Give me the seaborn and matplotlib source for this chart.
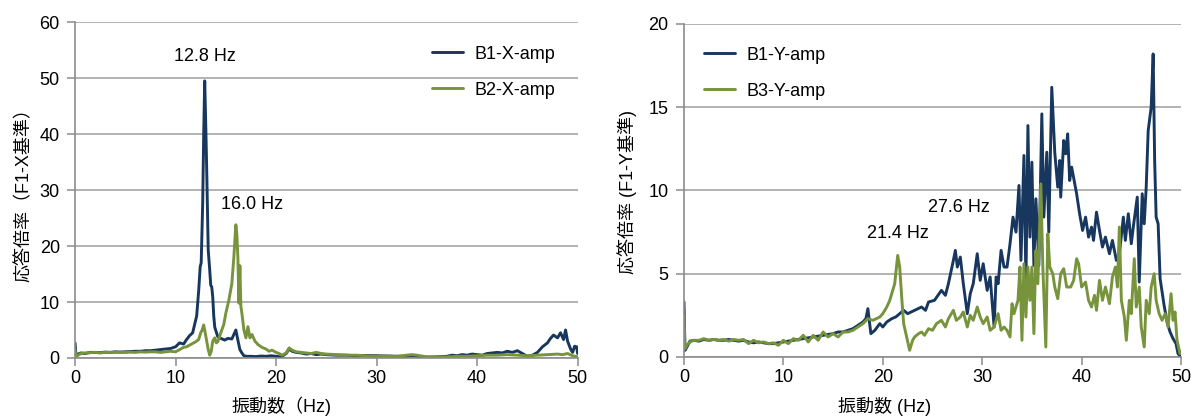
import matplotlib
matplotlib.use('Agg')
import matplotlib.pyplot as plt
import seaborn as sns
import pandas as pd

# 左: X方向 応答倍率
b1x_hz = [0, 0.1, 0.3, 0.6, 1, 1.5, 2, 2.5, 3, 3.5,
          4, 4.5, 5, 5.5, 6, 6.5, 7, 7.5, 8, 8.5,
          9, 9.5, 10, 10.4, 10.8, 11.1, 11.4, 11.7, 11.9, 12.1,
          12.3, 12.45, 12.55, 12.7, 12.8, 12.9, 13.0, 13.1, 13.25, 13.4,
          13.5, 13.6, 13.7, 13.8, 13.9, 14.2, 14.5, 14.9, 15.2, 15.6,
          15.8, 16.0, 16.2, 16.4, 16.6, 16.8, 17.1, 17.5, 18.0, 18.5,
          19, 19.5, 20, 20.5, 21, 21.3, 21.6, 22, 22.5, 23,
          23.5, 24, 24.5, 25, 26, 27, 28, 29, 30, 31,
          32, 33, 33.5, 34, 35, 36, 37, 37.5, 38, 38.5,
          39, 39.5, 40, 40.5, 41, 41.5, 42, 42.5, 43, 43.5,
          44, 44.5, 45, 45.5, 46, 46.5, 47, 47.3, 47.6, 48.0,
          48.3, 48.6, 48.8, 49.0, 49.3, 49.5, 49.7, 49.9, 50]
b1x_amp = [2.7, 0.3, 0.7, 0.9, 0.8, 1.0, 1.0, 0.95, 1.05, 1.0,
           1.1, 1.05, 1.1, 1.15, 1.2, 1.2, 1.3, 1.3, 1.4, 1.5,
           1.6, 1.7, 2.0, 2.7, 2.5, 3.3, 4.0, 4.5, 6.0, 7.5,
           12.0, 16.3, 17.0, 27.6, 40.0, 49.5, 42.0, 33.6, 19.3, 15.7,
           13.0, 12.7, 10.9, 7.5, 5.5, 3.8, 3.5, 3.2, 3.5, 3.4,
           4.2, 5.0, 3.2, 1.5, 0.9, 0.4, 0.3, 0.3, 0.25, 0.35,
           0.3, 0.4, 0.3, 0.2, 0.8, 1.6, 1.2, 1.0, 0.9, 0.7,
           0.8, 0.6, 0.7, 0.6, 0.5, 0.5, 0.4, 0.45, 0.4, 0.35,
           0.3, 0.3, 0.4, 0.3, 0.15, 0.2, 0.3, 0.5, 0.4, 0.6,
           0.5, 0.7, 0.6, 0.5, 0.8, 0.9, 1.0, 0.9, 1.2, 1.0,
           1.3, 0.8, 0.3, 0.5, 1.0, 2.0, 2.7, 3.5, 4.1, 3.6,
           4.5, 3.3, 5.0, 3.0, 1.6, 1.0, 2.1, 2.0, 0.8]

b2x_hz = [0, 0.1, 0.3, 0.6, 1, 1.5, 2, 2.5, 3, 3.5,
          4, 4.5, 5, 5.5, 6, 6.5, 7, 7.5, 8, 8.5,
          9, 9.5, 10, 10.4, 10.8, 11.1, 11.4, 11.7, 12.0, 12.3,
          12.5, 12.65, 12.8, 12.95, 13.1, 13.25, 13.4, 13.55, 13.7, 13.9,
          14.05, 14.2, 14.5, 14.8, 15.0, 15.3, 15.6, 15.8, 15.9, 16.0,
          16.1, 16.2, 16.3, 16.4, 16.5, 16.6, 16.8, 17.0, 17.2, 17.4,
          17.6, 17.9, 18.2, 18.6, 19.0, 19.3, 19.6, 20.0, 20.3, 20.6,
          21.0, 21.3, 21.6, 22.0, 22.5, 23.0, 23.5, 24.0, 24.5, 25.0,
          26, 27, 28, 29, 30, 31, 32, 33, 33.5, 34,
          35, 36, 37, 38, 39, 40, 41, 42, 43, 44,
          45, 46, 47, 48, 48.5, 49, 49.5, 50]
b2x_amp = [1.5, 0.2, 0.5, 0.8, 0.9, 0.95, 1.0, 0.9, 1.0, 1.0,
           1.0, 1.05, 1.0, 1.05, 1.0, 1.1, 1.05, 1.1, 1.1, 1.0,
           1.1, 1.2, 1.1, 1.5, 1.9, 2.0, 2.3, 2.6, 2.9, 3.3,
           4.5, 5.0, 5.9, 4.5, 3.0, 1.5, 0.5, 1.2, 3.0, 3.6,
           2.7, 2.9, 4.5, 6.0, 8.0, 10.3, 13.3, 18.0, 21.0, 23.8,
           22.0, 18.0, 9.8, 16.5, 9.2, 8.0, 5.0, 3.6, 5.6, 3.6,
           4.2, 3.0, 2.4, 1.9, 1.6, 1.2, 1.4, 1.0, 0.8, 0.5,
           0.9, 1.8, 1.4, 1.1, 1.0, 0.9, 0.8, 1.0, 0.8, 0.7,
           0.6, 0.5, 0.5, 0.4, 0.3, 0.35, 0.3, 0.5, 0.6, 0.5,
           0.2, 0.15, 0.2, 0.3, 0.3, 0.4, 0.5, 0.5, 0.6, 0.5,
           0.4, 0.5, 0.6, 0.7, 0.6, 0.8, 0.4, 0.2]

# 右: Y方向 応答倍率
b1y_hz = [0, 0.1, 0.3, 0.6, 1.0, 1.5, 2.0, 2.5, 3.0, 3.5,
          4, 4.5, 5, 5.5, 6, 6.5, 7, 7.5, 8, 8.5,
          9, 9.5, 10, 10.5, 11, 11.5, 12, 12.5, 13, 13.5,
          14, 14.5, 15, 15.5, 16, 16.5, 17, 17.5, 18, 18.3,
          18.5, 18.8, 19.2, 19.7, 20.0, 20.4, 20.9, 21.3, 21.7, 22.1,
          22.5, 23.2, 23.9, 24.3, 24.6, 25.2, 25.9, 26.3, 26.6, 27.1,
          27.3, 27.5, 27.8, 28.1, 28.5, 28.8, 29.1, 29.5, 29.8, 30.1,
          30.5, 30.8, 31.2, 31.4, 31.6, 31.9, 32.2, 32.5, 32.8, 33.1,
          33.4, 33.7, 33.9, 34.2, 34.4, 34.6, 34.8, 35.0, 35.2, 35.4,
          35.7, 36.0, 36.2, 36.5, 36.7, 37.0, 37.3, 37.6, 37.8, 37.9,
          38.2, 38.4, 38.6, 38.8, 39.0, 39.5, 39.8, 40.1, 40.4, 40.7,
          41.0, 41.2, 41.5, 41.8, 42.1, 42.4, 42.8, 43.1, 43.5, 43.8,
          44.2, 44.4, 44.7, 45.0, 45.2, 45.6, 45.8, 46.1, 46.3, 46.5,
          46.7, 47.0, 47.2, 47.35, 47.5, 47.7, 47.9, 48.3, 48.6, 48.9,
          49.2, 49.5, 49.7, 50]
b1y_amp = [3.3, 0.4, 0.6, 0.95, 1.0, 0.95, 1.05, 1.0, 1.05, 1.0,
           1.0, 1.05, 1.0, 0.95, 1.0, 0.9, 0.85, 0.9, 0.85, 0.8,
           0.8, 0.85, 0.9, 0.95, 1.0, 1.05, 1.1, 1.15, 1.2, 1.25,
           1.3, 1.35, 1.4, 1.5, 1.5, 1.6, 1.7, 1.9, 2.1, 2.3,
           2.9, 1.4, 1.6, 2.0, 1.8, 2.1, 2.3, 2.4, 2.6, 2.8,
           2.6, 2.8, 3.0, 2.8, 3.3, 3.4, 4.0, 3.7, 4.4, 5.8,
           6.4, 5.4, 6.0, 4.4, 2.6, 3.8, 4.4, 6.2, 4.6, 5.6,
           4.0, 4.8, 1.8, 4.8, 4.4, 6.4, 5.4, 5.4, 6.8, 8.4,
           7.5, 10.3, 5.8, 12.1, 4.5, 13.9, 7.2, 11.7, 5.5, 9.5,
           5.5, 14.6, 8.4, 12.3, 7.5, 16.2, 12.3, 10.2, 11.8, 9.6,
           13.0, 12.2, 13.4, 10.6, 11.4, 9.8, 8.6, 7.6, 8.4, 7.2,
           7.8, 7.0, 8.7, 7.6, 6.6, 7.2, 6.2, 7.0, 5.8, 6.2,
           8.4, 7.0, 8.6, 6.8, 7.8, 9.6, 4.5, 9.8, 8.0, 10.2,
           13.6, 15.0, 18.2, 11.8, 8.4, 8.0, 4.7, 3.1, 2.1, 1.5,
           1.1, 0.8, 0.2, 0.0]

b3y_hz = [0, 0.1, 0.3, 0.6, 1.0, 1.5, 2.0, 2.5, 3.0, 3.5,
          4, 4.5, 5, 5.5, 6, 6.5, 7, 7.5, 8, 8.5,
          9, 9.5, 10, 10.5, 11, 11.5, 12, 12.5, 13, 13.5,
          14, 14.5, 15, 15.5, 16, 16.5, 17, 17.5, 18, 18.5,
          19.0, 19.7, 20.0, 20.4, 20.7, 20.9, 21.2, 21.5, 21.7, 21.9,
          22.1, 22.4, 22.7, 23.0, 23.2, 23.6, 23.9, 24.2, 24.6, 25.0,
          25.4, 25.9, 26.3, 26.6, 27.1, 27.4, 27.8, 28.1, 28.5, 28.8,
          29.1, 29.5, 29.8, 30.1, 30.5, 30.8, 31.2, 31.6, 31.9, 32.2,
          32.5, 32.8, 33.0, 33.2, 33.4, 33.6, 33.8, 34.0, 34.2, 34.4,
          34.6, 34.8, 35.0, 35.2, 35.4, 35.6, 35.9, 36.1, 36.4, 36.6,
          36.8, 37.1, 37.3, 37.6, 37.9, 38.2, 38.5, 38.9, 39.2, 39.5,
          39.7, 40.0, 40.4, 40.7, 41.0, 41.3, 41.5, 41.8, 42.1, 42.4,
          42.8, 43.1, 43.4, 43.6, 43.8, 44.0, 44.3, 44.5, 44.8, 45.0,
          45.3, 45.5, 45.8, 46.0, 46.3, 46.5, 46.8, 47.0, 47.3, 47.5,
          47.8, 48.1, 48.4, 48.7, 49.0, 49.2, 49.4, 49.6, 49.9, 50.0]
b3y_amp = [2.5, 0.5, 0.7, 0.9, 1.0, 1.0, 1.1, 1.0, 1.05, 1.0,
           1.05, 0.95, 1.05, 1.0, 1.05, 0.8, 1.0, 0.85, 0.9, 0.8,
           0.85, 0.7, 1.0, 0.8, 1.1, 1.0, 1.3, 0.9, 1.3, 1.0,
           1.5, 1.2, 1.4, 1.2, 1.5, 1.5, 1.6, 1.8, 2.0, 2.3,
           2.2, 2.4, 2.6, 3.0, 3.4, 3.8, 4.4, 6.1, 5.4, 3.6,
           2.0, 1.2, 0.4, 1.0, 1.2, 1.4, 1.5, 1.3, 1.7, 1.6,
           2.0, 2.2, 1.8, 2.3, 2.8, 2.2, 2.4, 2.7, 1.8, 2.5,
           2.2, 3.0, 2.4, 2.0, 2.4, 1.6, 1.8, 2.6, 1.6, 1.8,
           1.6, 1.2, 3.2, 2.6, 3.0, 3.4, 5.4, 1.0, 5.6, 2.4,
           5.4, 3.4, 5.4, 1.4, 6.4, 4.4, 10.4, 5.4, 0.6, 7.4,
           5.4, 5.0, 4.2, 3.5, 5.0, 5.3, 4.2, 4.2, 4.6, 5.9,
           5.6, 4.2, 4.5, 3.4, 3.0, 3.7, 2.8, 4.6, 3.4, 4.2,
           3.2, 4.8, 5.4, 4.2, 7.8, 3.4, 2.4, 1.0, 3.4, 2.6,
           5.9, 3.0, 4.2, 1.8, 0.6, 3.4, 2.6, 4.2, 5.0, 3.4,
           2.6, 2.2, 2.6, 1.8, 3.8, 2.2, 2.7, 1.0, 0.2, 0.3]

NAVY = '#17375E'
OLIVE = '#77933C'
GRID = '#A6A6A6'
AXIS = '#8C8C8C'

sns.set_style('white')
plt.rcParams['font.family'] = ['Liberation Sans', 'Noto Sans CJK JP']
plt.rcParams['font.size'] = 13
plt.rcParams['text.color'] = 'black'
plt.rcParams['axes.labelcolor'] = 'black'


def style_axes(ax, ymax, ystep):
    ax.set_xlim(0, 50)
    ax.set_ylim(0, ymax)
    ax.set_xticks(range(0, 51, 10))
    ax.set_yticks(range(0, ymax + 1, ystep))
    ax.yaxis.grid(True, color=GRID, lw=1.2)
    ax.xaxis.grid(False)
    ax.set_axisbelow(True)
    for side in ['top', 'right']:
        ax.spines[side].set_visible(False)
    for side in ['left', 'bottom']:
        ax.spines[side].set_color(AXIS)
        ax.spines[side].set_linewidth(1.2)
    ax.tick_params(axis='both', direction='out', length=6, width=1.1,
                   color=AXIS, labelcolor='black', labelsize=13,
                   bottom=True, left=True)
    ax.tick_params(axis='y', pad=5)
    ax.tick_params(axis='x', pad=3)


def add_legend(ax, anchor):
    ax.legend(loc='upper left', bbox_to_anchor=anchor, frameon=False,
              borderpad=0, borderaxespad=0, handlelength=1.75,
              handletextpad=0.6, labelspacing=1.05, fontsize=13)


fig = plt.figure(figsize=(11.91, 4.17), dpi=100)
ax1 = fig.add_axes([0.063, 0.1415, 0.422, 0.8055])
ax2 = fig.add_axes([0.5743, 0.144, 0.4173, 0.7985])

left = pd.DataFrame({'hz': b1x_hz, 'amp': b1x_amp})
left2 = pd.DataFrame({'hz': b2x_hz, 'amp': b2x_amp})
sns.lineplot(data=left, x='hz', y='amp', color=NAVY, lw=2.1, label='B1-X-amp', ax=ax1)
sns.lineplot(data=left2, x='hz', y='amp', color=OLIVE, lw=2.1, label='B2-X-amp', ax=ax1)
style_axes(ax1, 60, 10)
ax1.text(12.9, 53.8, '12.8 Hz', ha='center', va='center')
ax1.text(17.6, 27.5, '16.0 Hz', ha='center', va='center')
ax1.set_xlabel('振動数（Hz)', fontsize=13)
ax1.set_ylabel('応答倍率（F1-X基準）', fontsize=13)
ax1.xaxis.set_label_coords(0.41, -0.116)
ax1.yaxis.set_label_coords(-0.0835, 0.497)
add_legend(ax1, (0.71, 0.930))

right = pd.DataFrame({'hz': b1y_hz, 'amp': b1y_amp})
right2 = pd.DataFrame({'hz': b3y_hz, 'amp': b3y_amp})
sns.lineplot(data=right, x='hz', y='amp', color=NAVY, lw=2.1, label='B1-Y-amp', ax=ax2)
sns.lineplot(data=right2, x='hz', y='amp', color=OLIVE, lw=2.1, label='B3-Y-amp', ax=ax2)
style_axes(ax2, 20, 5)
ax2.text(21.5, 7.4, '21.4 Hz', ha='center', va='center')
ax2.text(27.7, 8.95, '27.6 Hz', ha='center', va='center')
ax2.set_xlabel('振動数 (Hz)', fontsize=13)
ax2.set_ylabel('応答倍率 (F1-Y基準)', fontsize=13)
ax2.xaxis.set_label_coords(0.404, -0.12)
ax2.yaxis.set_label_coords(-0.0946, 0.495)
add_legend(ax2, (0.04, 0.932))

fig.savefig('out.png', dpi=100)
